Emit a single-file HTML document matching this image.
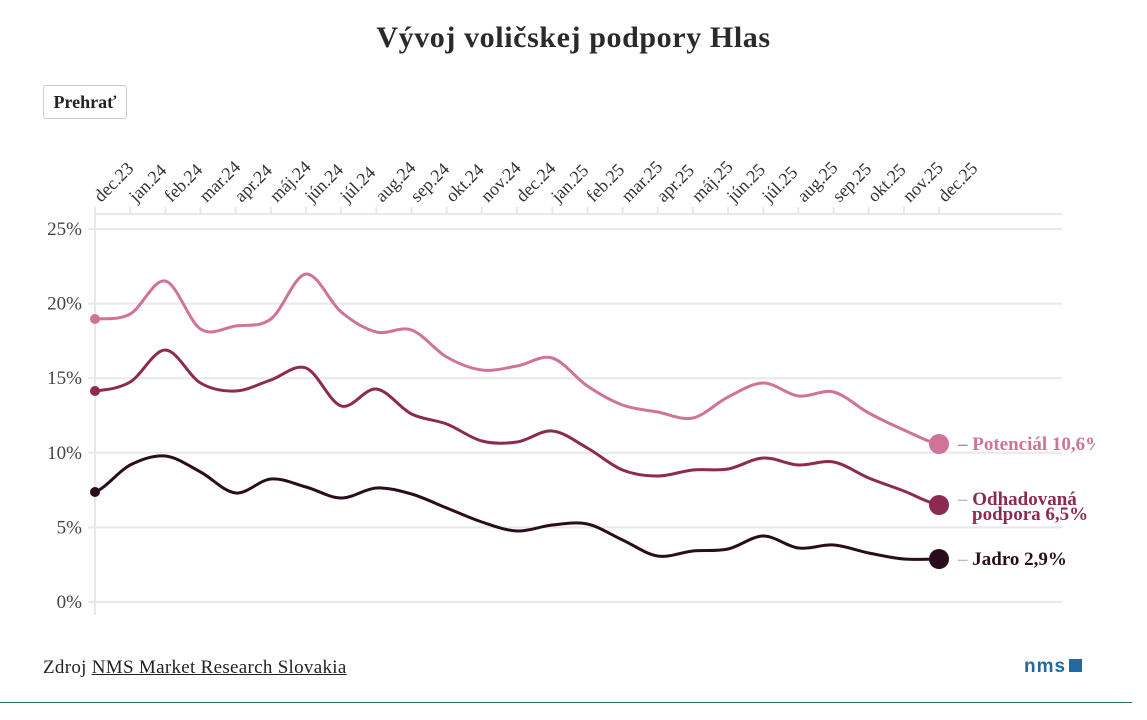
<!DOCTYPE html>
<html><head><meta charset="utf-8"><style>
body{margin:0;width:1147px;height:720px;background:#fff;font-family:"Liberation Serif",serif;overflow:hidden;position:relative}
h1{position:absolute;top:21px;left:0;width:1147px;text-align:center;margin:0;font-size:30px;letter-spacing:0.6px;font-weight:bold;color:#2a2a2a}
.btn{position:absolute;left:43px;top:85px;width:84px;height:34px;border:1px solid #ccc;border-radius:3px;font-size:18px;font-weight:bold;color:#222;line-height:32px;text-align:center;box-sizing:border-box}
.src{position:absolute;left:43px;top:657px;font-size:19px;letter-spacing:0.3px;color:#222}
.src u{text-decoration:underline}
.nms{position:absolute;left:1024px;top:656px;font-family:"Liberation Sans",sans-serif;font-weight:bold;font-size:19px;color:#1f6aa5;letter-spacing:1px}
.nms i{display:inline-block;width:13px;height:13px;background:#1f6aa5;margin-left:3px}
.bl{position:absolute;left:0;top:702px;width:1132px;height:1px;background:#2b6b6a}
</style></head><body>
<h1>Vývoj voličskej podpory Hlas</h1>
<div class="btn">Prehrať</div>
<svg id="s" width="1147" height="720" style="position:absolute;left:0;top:0"></svg>
<div class="src">Zdroj <u>NMS Market Research Slovakia</u></div>
<div class="nms">nms<i></i></div>
<div class="bl"></div>
<script>
const s=document.getElementById('s');let h='';
const X=i=>95+35.17*i;
const Y=v=>602-v*14.92;
[0,5,10,15,20,25].forEach(v=>{h+=`<line x1="88" x2="1062" y1="${Y(v)}" y2="${Y(v)}" stroke="#e8e8e8" stroke-width="2"/>`;
h+=`<text x="82" y="${Y(v)+6}" text-anchor="end" font-size="19" fill="#444" font-family="Liberation Serif">${v}%</text>`});
h+=`<line x1="95" x2="1062" y1="214" y2="214" stroke="#e8e8e8" stroke-width="2"/><line x1="95" x2="95" y1="214" y2="615" stroke="#e8e8e8" stroke-width="2"/>`;
const m=['dec.23','jan.24','feb.24','mar.24','apr.24','máj.24','jún.24','júl.24','aug.24','sep.24','okt.24','nov.24','dec.24','jan.25','feb.25','mar.25','apr.25','máj.25','jún.25','júl.25','aug.25','sep.25','okt.25','nov.25','dec.25'];
m.forEach((t,i)=>{const x=X(i);h+=`<line x1="${x}" x2="${x}" y1="207" y2="214" stroke="#e8e8e8" stroke-width="2"/>`;
h+=`<text transform="translate(${x+6},203) rotate(-45)" font-size="18" fill="#333" font-family="Liberation Serif">${t}</text>`});
function path(a){let d=`M${X(0)},${a[0]}`;for(let i=0;i<a.length-1;i++){const p0=a[Math.max(i-1,0)],p1=a[i],p2=a[i+1],p3=a[Math.min(i+2,a.length-1)];
d+=` C${X(i)+11.7},${p1+(p2-p0)/6} ${X(i+1)-11.7},${p2-(p3-p1)/6} ${X(i+1)},${p2}`;}return d}
const S=[
['#d07398',[319,314,281,329,326,319,274,312,332,330,357,370,366,358,386,405,412,418,397,383,396,392,413,430,444]],
['#8c2a52',[391,382,350,383,391,380,368,406,389,414,424,441,442,431,448,470,476,470,469,458,465,462,478,491,505]],
['#2a0d1c',[492,465,456,472,493,479,487,498,488,494,508,522,531,525,524,540,556,551,549,536,548,545,553,559,559]]];
S.forEach(([c,a])=>{h+=`<path d="${path(a)}" fill="none" stroke="${c}" stroke-width="3"/><circle cx="95" cy="${a[0]}" r="5" fill="${c}"/><circle cx="939" cy="${a[24]}" r="10" fill="${c}"/>`});
h+=`<text x="958" y="450" font-size="19" font-weight="bold" fill="#d07398">– Potenciál 10,6%</text>`;
h+=`<text x="958" y="505" font-size="19" font-weight="bold" fill="#8c2a52"><tspan fill="#bbb">–</tspan> Odhadovaná</text><text x="972" y="520" font-size="19" font-weight="bold" fill="#8c2a52">podpora 6,5%</text>`;
h+=`<text x="958" y="565" font-size="19" font-weight="bold" fill="#2a0d1c"><tspan fill="#bbb">–</tspan> Jadro 2,9%</text>`;
s.innerHTML=h;
</script>
<div style="position:absolute;left:1095px;top:420px;width:52px;height:40px;background:#fff"></div>
</body></html>
